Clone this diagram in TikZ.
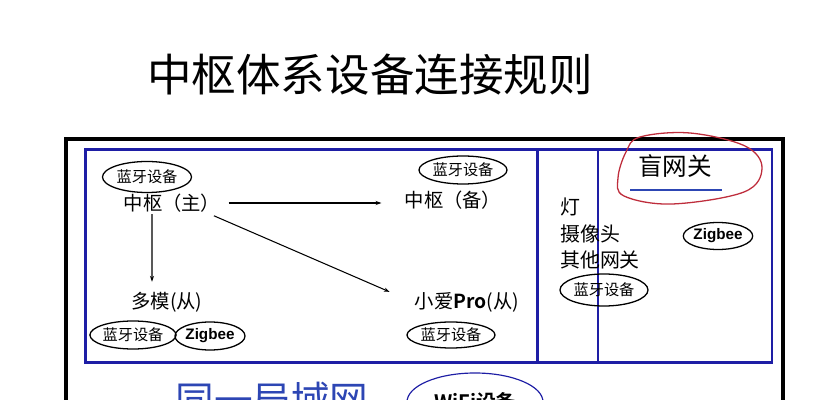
\documentclass[tikz,border=0pt]{standalone}
\usepackage{fontspec}
\setmainfont{Noto Sans CJK SC}[BoldFont={Noto Sans CJK SC Bold}]
\newfontfamily\latb{Liberation Sans}
\usetikzlibrary{shapes.geometric,arrows.meta}
\definecolor{navy}{RGB}{30,30,165}
\definecolor{lanblue}{RGB}{45,70,180}
\definecolor{loopred}{RGB}{190,45,60}
\tikzset{
  bt/.style={draw,ellipse,line width=1.1pt,inner sep=0pt,font=\fontsize{13}{13}\selectfont},
  zb/.style={draw,ellipse,line width=1.1pt,inner sep=0pt,font=\latb\bfseries\fontsize{13}{13}\selectfont},
  lbl/.style={inner sep=0pt,font=\fontsize{16.5}{16.5}\selectfont},
  arr/.style={line width=0.9pt,-{Stealth[length=5pt,width=3.5pt]}},
  bluebox/.style={draw=navy,line width=2pt}
}
\begin{document}
\begin{tikzpicture}[x=0.03cm,y=-0.03cm]
\useasboundingbox (0,0) rectangle (829,400);
\clip (0,0) rectangle (829,400);
% title
\node[inner sep=0pt,font=\fontsize{38}{38}\selectfont] (title) at (370,75) {中枢体系设备连接规则};
% frames
\draw[line width=2.6pt] (66,139) rectangle (783,430);
\node[bluebox,minimum width=13.56cm,minimum height=6.39cm,inner sep=0pt] (boxA) at (311.5,256) {};
\node[bluebox,minimum width=1.83cm,minimum height=6.39cm,inner sep=0pt] (boxB) at (567.5,256) {};
\node[bluebox,minimum width=5.22cm,minimum height=6.39cm,inner sep=0pt] (boxC) at (685,256) {};
% left part
\node[bt,minimum width=2.67cm,minimum height=0.93cm] (e1) at (147,177) {蓝牙设备};
\node[lbl] (zhu) at (172,203) {中枢（主）};
\node[lbl] (duomo) at (167,302) {多模(从)};
\node[bt,minimum width=2.37cm,minimum height=0.84cm] (e2) at (133,335) {蓝牙设备};
\node[zb,minimum width=2.1cm,minimum height=0.84cm] (z1) at (210,336) {Zigbee};
\node[bt,minimum width=2.64cm,minimum height=0.84cm] (e4) at (463,170) {蓝牙设备};
\node[lbl] (bei) at (453,200) {中枢（备）};
\node[lbl] (xiaoai) at (467,302) {小爱\textbf{Pro}(从)};
\node[bt,minimum width=2.64cm,minimum height=0.78cm] (e5) at (451,335) {蓝牙设备};
% arrows
\draw[arr,shorten <=0.24cm,shorten >=0.69cm] (zhu.east) -- (zhu.east -| bei.west);
\draw[arr] ([xshift=-0.2cm,yshift=-0.1cm]zhu.south east) -- ([xshift=-0.75cm]xiaoai.north west);
\draw[arr] ([xshift=-0.6cm,yshift=-0.05cm]zhu.south) -- ([xshift=-0.45cm,yshift=0.3cm]duomo.north);
% middle column
\node[inner sep=0pt,anchor=north west,align=left,font=\fontsize{17}{22.5}\selectfont] (col) at (560,198) {灯\\摄像头\\其他网关};
\node[bt,minimum width=2.64cm,minimum height=0.96cm] (e6) at (604,290) {蓝牙设备};
% right column
\node[inner sep=0pt,font=\fontsize{21}{21}\selectfont] (mang) at (675,166) {盲网关};
\draw[lanblue,line width=1.2pt] (630,190) -- (722,190);
\draw[loopred,line width=1.1pt] plot[smooth cycle,tension=0.6] coordinates {(640,137) (690,133) (745,146) (762,168) (744,192) (672,204) (624,196) (618,178) (626,152)};
\node[zb,minimum width=2.07cm,minimum height=0.81cm] (z2) at (718,236) {Zigbee};
% bottom
\node[inner sep=0pt,text=lanblue,font=\fontsize{33}{33}\selectfont] (lan) at (272,400) {同一局域网};
\node[draw=navy,ellipse,line width=1pt,inner sep=0pt,minimum width=4.08cm,minimum height=1.74cm,font=\bfseries\fontsize{17}{17}\selectfont] (wifi) at (475,402) {WiFi设备};
\end{tikzpicture}
\end{document}
